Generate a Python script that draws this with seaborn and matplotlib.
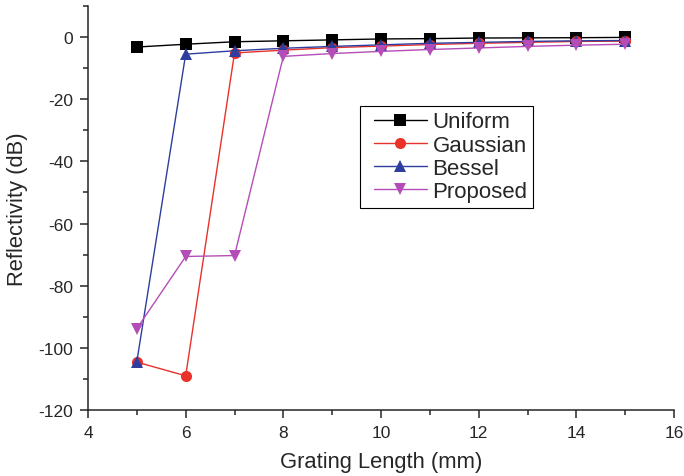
import pandas as pd
import matplotlib.pyplot as plt
import seaborn as sns
from matplotlib.lines import Line2D
from matplotlib.legend_handler import HandlerLine2D

# valores
comprimento = [5, 6, 7, 8, 9, 10, 11, 12, 13, 14, 15]
uniform = [-3.2, -2.3, -1.5, -1.2, -0.9, -0.6, -0.5, -0.3, -0.25, -0.2, -0.1]
gaussian = [-104.6, -109.0, -5.1, -4.2, -3.4, -2.9, -2.4, -2.0, -1.7, -1.4, -1.3]
bessel = [-104.4, -5.5, -4.4, -3.6, -3.0, -2.5, -2.0, -1.7, -1.4, -1.2, -1.1]
proposed = [-93.8, -70.6, -70.3, -6.2, -5.3, -4.6, -4.0, -3.5, -3.0, -2.6, -2.3]

nomes = ['Uniform', 'Gaussian', 'Bessel', 'Proposed']
cores = {'Uniform': '#000000', 'Gaussian': '#e8322a',
         'Bessel': '#2d3e9e', 'Proposed': '#b54db8'}
marcadores = {'Uniform': 's', 'Gaussian': 'o', 'Bessel': '^', 'Proposed': 'v'}

dados = pd.DataFrame({
    'x': comprimento * 4,
    'y': uniform + gaussian + bessel + proposed,
    'curva': [n for n in nomes for _ in comprimento],
})


# deixa um espaço em branco antes da linha na legenda
class HandlerComEspaco(HandlerLine2D):
    def __init__(self, espaco, **kw):
        super().__init__(**kw)
        self.espaco = espaco

    def create_artists(self, legend, orig_handle, xdescent, ydescent,
                       width, height, fontsize, trans):
        return super().create_artists(legend, orig_handle,
                                      xdescent - self.espaco, ydescent,
                                      width - self.espaco, height,
                                      fontsize, trans)


sns.set_style("ticks")
plt.rcParams['font.family'] = ['Liberation Sans', 'DejaVu Sans']
plt.rcParams['axes.unicode_minus'] = False

fig = plt.figure(figsize=(6.84, 4.77), dpi=100)
ax = fig.add_axes([0.1287, 0.1384, 0.8567, 0.8469])

sns.lineplot(data=dados, x='x', y='y', hue='curva', style='curva',
             hue_order=nomes, style_order=nomes, palette=cores,
             markers=marcadores, dashes=False, markersize=8,
             markeredgewidth=0, linewidth=1, ax=ax)

ax.set_xlim(4, 16)
ax.set_ylim(-120, 10)
ax.set_xticks(range(4, 17, 2))
ax.set_xticks(range(5, 16, 2), minor=True)
ax.set_yticks(range(-120, 1, 20))
ax.set_yticks(range(-110, 11, 20), minor=True)
ax.tick_params(which='major', length=6, width=1.1, labelsize=12.5, pad=5,
               direction='out')
ax.tick_params(which='minor', length=3.5, width=1.1, direction='out')
for lado in ['left', 'bottom']:
    ax.spines[lado].set_linewidth(1.1)
sns.despine(ax=ax)

ax.set_xlabel('Grating Length (mm)', fontsize=15.8, labelpad=8)
ax.set_ylabel('Reflectivity (dB)', fontsize=15.8, labelpad=7)

leg = ax.legend(loc='upper left', bbox_to_anchor=(0.464, 0.753), fontsize=16,
                fancybox=False, edgecolor='black', framealpha=1,
                handlelength=2.75, labelspacing=0.1, borderpad=0.25,
                handletextpad=0.27, borderaxespad=0,
                handler_map={Line2D: HandlerComEspaco(6.1)})
leg.get_frame().set_linewidth(0.8)

fig.savefig('out.png', dpi=100)
